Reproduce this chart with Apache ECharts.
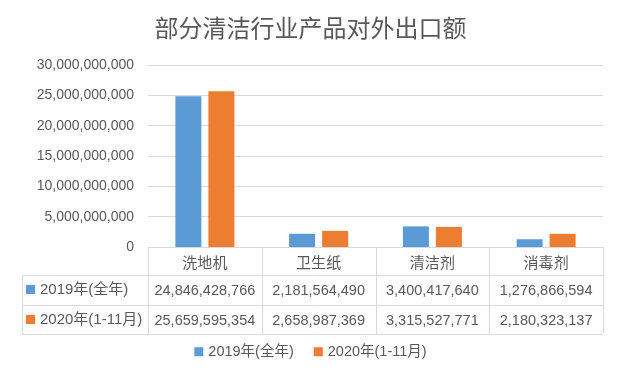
<!DOCTYPE html>
<html><head><meta charset="utf-8">
<script src="https://cdn.jsdelivr.net/npm/echarts@6/dist/echarts.min.js"></script>
<style>html,body{margin:0;padding:0;background:#fff}#c{width:621px;height:376px}</style>
</head><body><div id="c"></div>
<script>
const title = '部分清洁行业产品对外出口额';
const categories = ['洗地机', '卫生纸', '清洁剂', '消毒剂'];
const seriesNames = ['2019年(全年)', '2020年(1-11月)'];
const values2019 = [24846428766, 2181564490, 3400417640, 1276866594];
const values2020 = [25659595354, 2658987369, 3315527771, 2180323137];
const yTicks = [0, 5000000000, 10000000000, 15000000000, 20000000000, 25000000000, 30000000000];

const C1 = '#5B9BD5', C2 = '#ED7D31', TXT = '#595959', LINE = '#D9D9D9';
const FONT = '"Liberation Sans","Noto Sans CJK SC",sans-serif';
const fmt = v => Number(v).toLocaleString('en-US');

const GL = 148, GR = 603, GT = 65, GB = 247;
const chart = echarts.init(document.getElementById('c'));

function rowAxis(offset, vals) {
  return {
    type: 'category', data: categories, gridIndex: 0, position: 'bottom', offset: offset,
    axisLine: {show: false}, axisTick: {show: false},
    axisLabel: {interval: 0, hideOverlap: false, margin: 15, verticalAlign: 'middle', color: TXT, fontSize: 14.5, fontFamily: FONT,
      formatter: (v, i) => fmt(vals[i])}
  };
}

const lines = [];
function hl(x1, x2, y) { lines.push({type: 'line', shape: {x1, y1: y + 0.5, x2, y2: y + 0.5}, style: {stroke: LINE, lineWidth: 1}, silent: true}); }
function vl(x, y1, y2) { lines.push({type: 'line', shape: {x1: x + 0.5, y1, x2: x + 0.5, y2}, style: {stroke: LINE, lineWidth: 1}, silent: true}); }
const colW = (GR - GL) / categories.length;
for (let i = 0; i <= categories.length; i++) vl(Math.round(GL + colW * i), GB, 334);
vl(22, 275, 334);
hl(22, GR, 275); hl(22, GR, 305); hl(22, GR, 334);

const rowLabels = [
  {type: 'rect', shape: {x: 26, y: 285, width: 9, height: 9}, style: {fill: C1}},
  {type: 'text', style: {x: 40, y: 290, text: seriesNames[0], fill: TXT, font: '15px ' + FONT, verticalAlign: 'middle'}},
  {type: 'rect', shape: {x: 26, y: 315, width: 9, height: 9}, style: {fill: C2}},
  {type: 'text', style: {x: 40, y: 320, text: seriesNames[1], fill: TXT, font: '15px ' + FONT, verticalAlign: 'middle'}}
];

chart.setOption({
  animation: false,
  backgroundColor: '#fff',
  title: {text: title, left: 'center', top: 11, textStyle: {color: TXT, fontSize: 24, fontWeight: 'normal', fontFamily: '"Noto Sans CJK SC",sans-serif'}},
  legend: {bottom: 12, left: 'center', itemWidth: 9, itemHeight: 9, itemGap: 20, icon: 'rect',
    textStyle: {color: TXT, fontSize: 14.5, fontFamily: FONT}, data: seriesNames},
  grid: {left: GL, right: 621 - GR, top: GT, bottom: 376 - GB, containLabel: false},
  xAxis: [
    {type: 'category', data: categories, axisLine: {lineStyle: {color: LINE}}, axisTick: {show: false},
      axisLabel: {interval: 0, margin: 15, verticalAlign: 'middle', color: TXT, fontSize: 15, fontFamily: '"Noto Sans CJK SC",sans-serif'}},
    rowAxis(29, values2019),
    rowAxis(59, values2020)
  ],
  yAxis: {type: 'value', min: yTicks[0], max: yTicks[yTicks.length - 1], interval: yTicks[1] - yTicks[0],
    axisLine: {show: false}, axisTick: {show: false},
    splitLine: {lineStyle: {color: LINE}},
    axisLabel: {margin: 14, color: TXT, fontSize: 14, fontFamily: FONT, formatter: v => fmt(v)}},
  series: [
    {name: seriesNames[0], type: 'bar', data: values2019, barWidth: 26, barGap: '27%', itemStyle: {color: C1}},
    {name: seriesNames[1], type: 'bar', data: values2020, barWidth: 26, barGap: '27%', itemStyle: {color: C2}}
  ],
  graphic: lines.concat(rowLabels)
});
</script></body></html>
